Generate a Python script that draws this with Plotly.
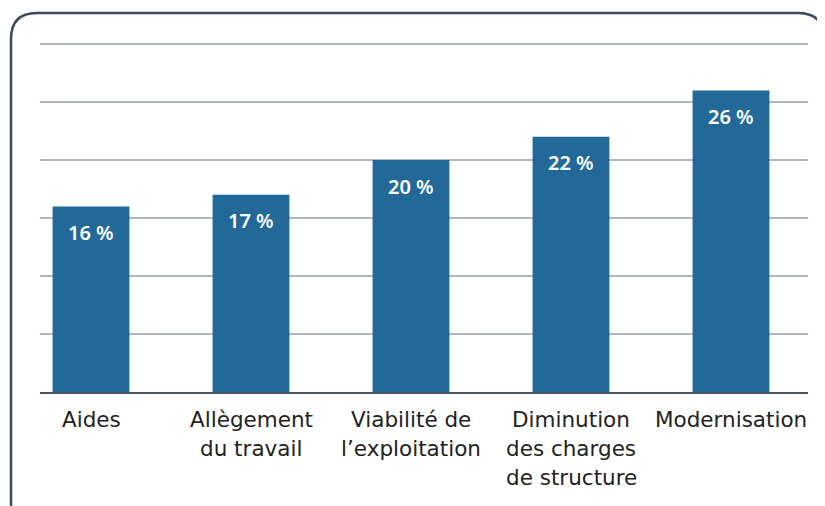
import plotly.graph_objects as go

categories = ["Aides", "Allègement\ndu travail", "Viabilité de\nl’exploitation",
              "Diminution\ndes charges\nde structure", "Modernisation"]
values = [16, 17, 20, 22, 26]
value_labels = ["16 %", "17 %", "20 %", "22 %", "26 %"]
y_ticks = [0, 5, 10, 15, 20, 25, 30]

W, H = 825, 506
OFF = 8  # default page body margin
# plot area in window pixels
PX0, PX1, PY0, PY1 = 40, 808, 38, 392
L, R, T, B = PX0 - OFF, W - (PX1 - OFF), PY0 - OFF, H - (PY1 - OFF)
PW, PH = PX1 - PX0, PY1 - PY0
PX_PER_UNIT = 58 / 5
x_ids = list(range(len(categories)))

def px(x):
    return (x - PX0) / PW

def py(y):
    return (PY1 - y) / PH

FONT = "DejaVu Sans"
BAR = "#22699a"

fig = go.Figure(go.Bar(
    x=x_ids, y=values, marker=dict(color=BAR, line=dict(width=0)),
    width=0.48, hoverinfo="skip",
))

ann = []
for i, (v, t) in enumerate(zip(values, value_labels)):
    ann.append(dict(x=i, y=v, xref="x", yref="y", text=t, showarrow=False,
                    yanchor="middle", yshift=-26,
                    font=dict(family="Noto Sans", size=20, color="white", weight=600)))
for i, c in enumerate(categories):
    for j, line in enumerate(c.split("\n")):
        ann.append(dict(x=i, y=py(419 + 29 * j), xref="x", yref="paper", text=line,
                        showarrow=False, yanchor="middle",
                        font=dict(family=FONT, size=21.5, color="#222222")))

# rounded border
x0, x1, y0, y1, r = 11, 824, 13, 530, 26
path = (f"M {px(x0)},{py(y0 + r)} Q {px(x0)},{py(y0)} {px(x0 + r)},{py(y0)} "
        f"L {px(x1 - r)},{py(y0)} Q {px(x1)},{py(y0)} {px(x1)},{py(y0 + r)} "
        f"L {px(x1)},{py(y1 - r)} Q {px(x1)},{py(y1)} {px(x1 - r)},{py(y1)} "
        f"L {px(x0 + r)},{py(y1)} Q {px(x0)},{py(y1)} {px(x0)},{py(y1 - r)} Z")

fig.update_layout(
    width=W, height=H, margin=dict(l=L, r=R, t=T, b=B, pad=0),
    paper_bgcolor="white", plot_bgcolor="white", showlegend=False,
    annotations=ann,
    shapes=[dict(type="path", path=path, xref="paper", yref="paper",
                 line=dict(color="#3e4a5c", width=2.5), layer="above")],
    xaxis=dict(range=[-(91 - PX0) / 160, -(91 - PX0) / 160 + PW / 160],
               showticklabels=False, showgrid=False, zeroline=False,
               showline=True, linecolor="#4a5567", linewidth=2, ticks=""),
    yaxis=dict(range=[0, PH / PX_PER_UNIT], tickvals=y_ticks, showticklabels=False,
               showgrid=True, gridcolor="#aeb7c4", gridwidth=1.5,
               zeroline=False, showline=False, ticks=""),
)

fig.write_html("out.html")
